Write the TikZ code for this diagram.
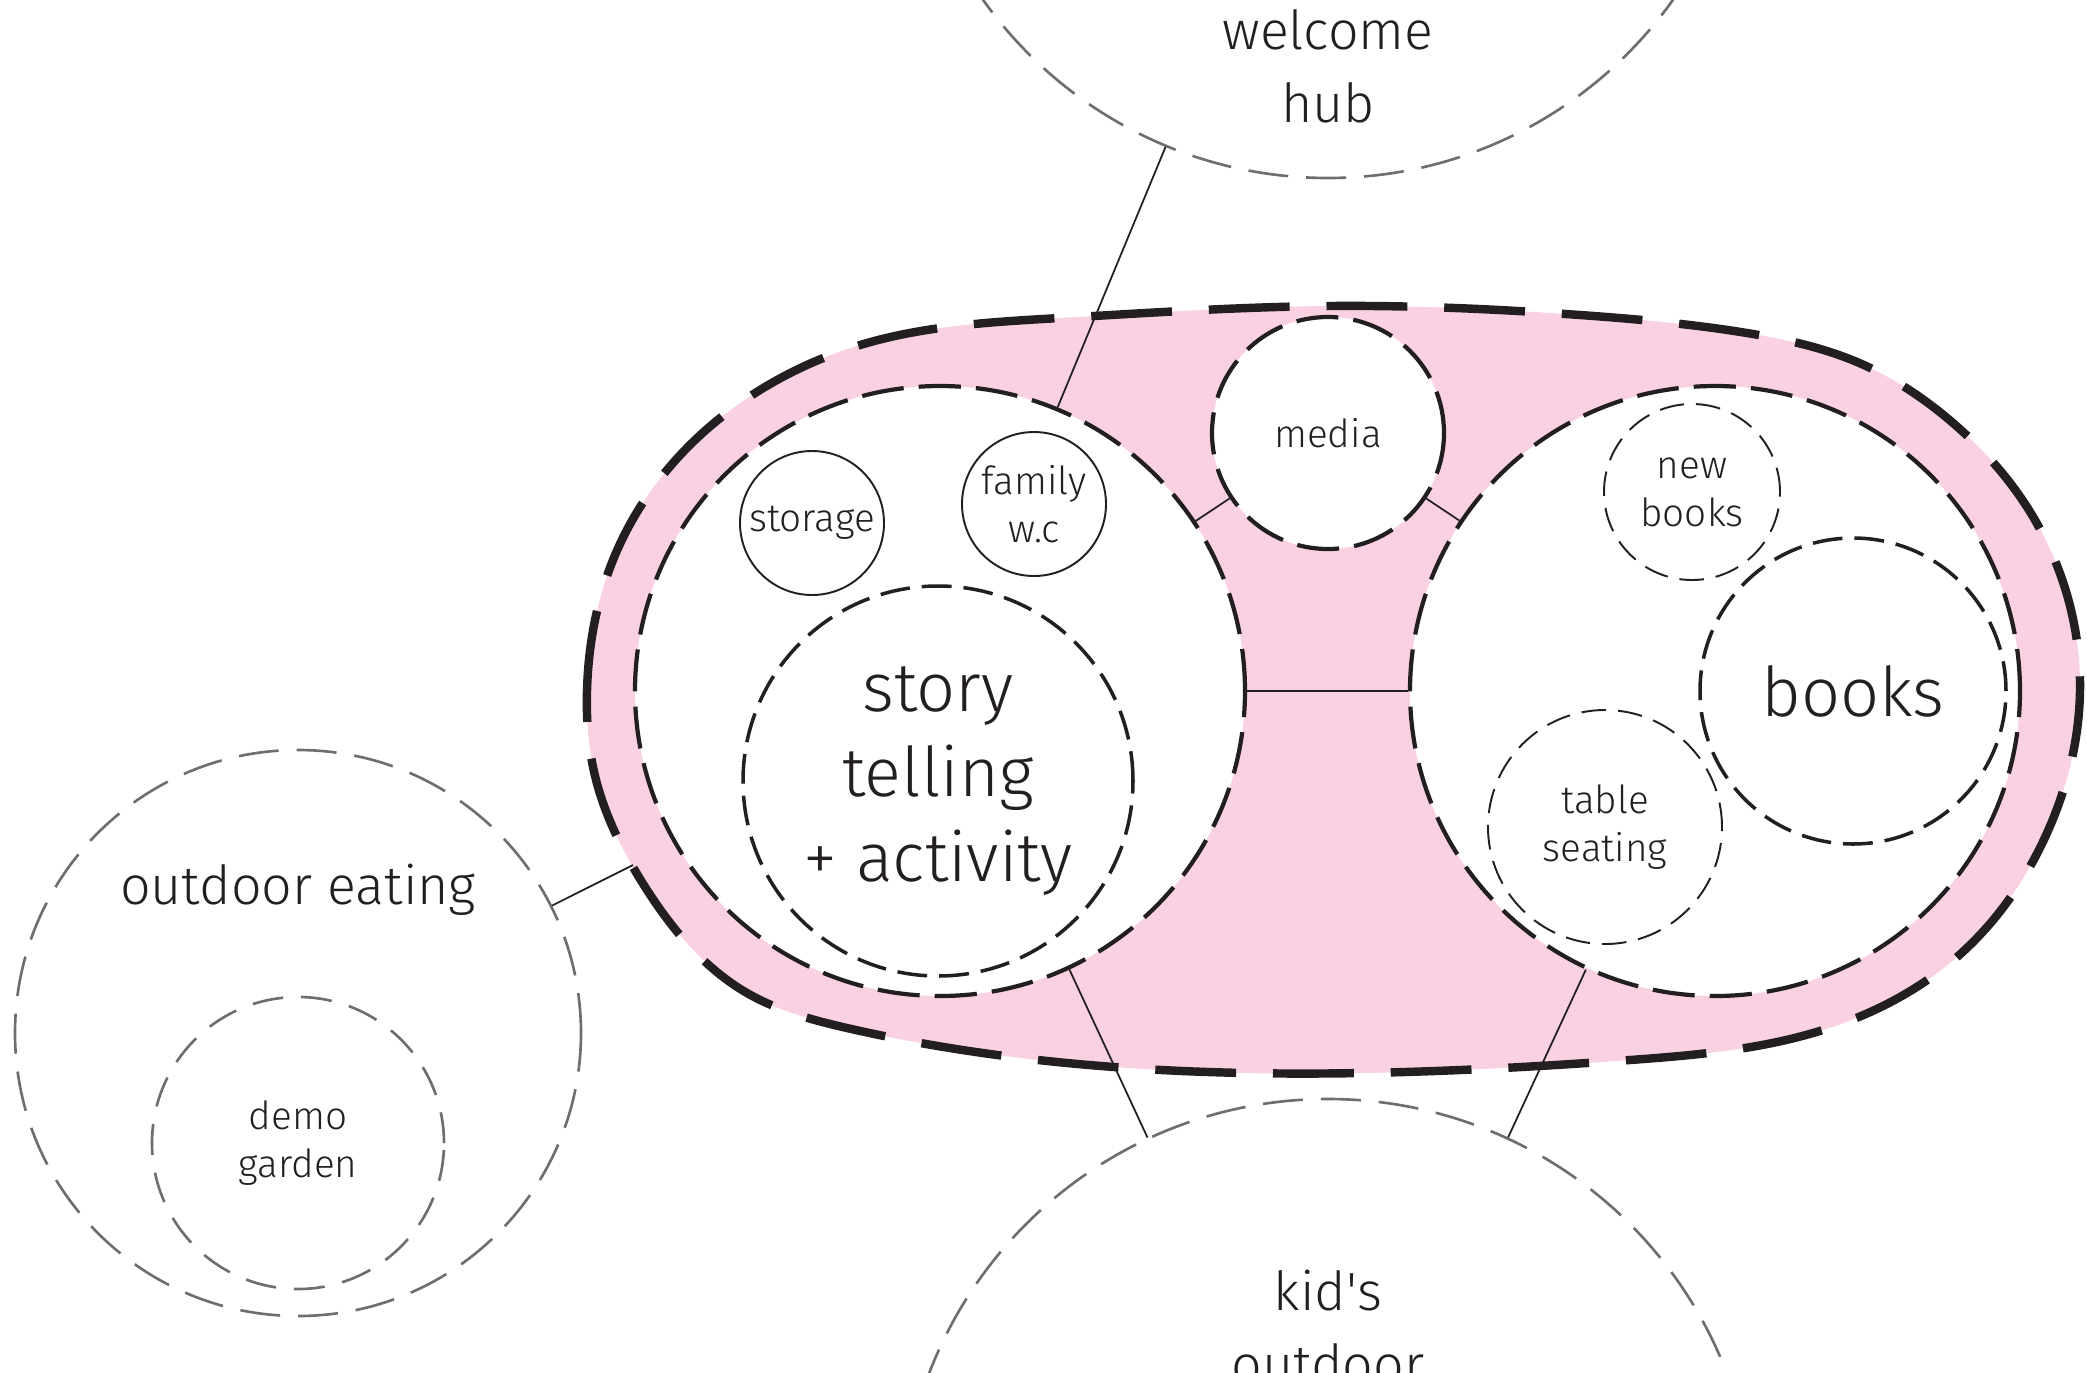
\documentclass[tikz,border=0pt]{standalone}
\usepackage{fontspec}
\IfFontExistsTF{Fira Sans Light}{\setmainfont{Fira Sans Light}}{\setmainfont{Fira Sans}}
\usetikzlibrary{hobby}
\definecolor{blobpink}{RGB}{249,209,227}
\definecolor{ink}{RGB}{35,31,32}
\definecolor{guidegray}{RGB}{109,110,113}

\tikzset{
	zone/.style={circle, draw=ink, fill=white, line width=1.2pt, dash pattern=on 12pt off 4.3pt, inner sep=0pt},
	room/.style={circle, draw=ink, line width=1pt, dash pattern=on 8.5pt off 3.4pt, inner sep=0pt, align=center},
	nook/.style={circle, draw=ink, line width=.55pt, dash pattern=on 7pt off 3.4pt, inner sep=0pt, align=center},
	solidroom/.style={circle, draw=ink, line width=.55pt, inner sep=0pt, align=center},
	offsite/.style={circle, draw=guidegray, line width=.75pt, dash pattern=on 11.4pt off 5.1pt, inner sep=0pt, align=center},
	link/.style={draw=ink, line width=.5pt},
	bigtext/.style={font=\fontsize{19.5}{24.3}\selectfont, text=ink},
	midtext/.style={font=\fontsize{15.3}{20.8}\selectfont, text=ink, align=center},
	smalltext/.style={font=\fontsize{11}{13.7}\selectfont, text=ink},
}

\begin{document}
\begin{tikzpicture}[x=0.1mm, y=-0.1mm]
	\useasboundingbox (0,0) rectangle (2087,1372);

	%library blob
	\path[fill=blobpink, draw=ink, line width=2.4pt, dash pattern=on 23pt off 10.5pt]
		plot[closed hobby] coordinates {(587,691) (613,560) (673,463) (760,390) (867,343) (1060,318) (1330,306) (1580,315) (1747,333) (1857,362) (1953,423) (2027,507) (2080,691) (2047,833) (1957,957) (1813,1033) (1630,1060) (1363,1073) (1057,1062) (847,1028) (747,993) (647,890) (593,767)};
	\coordinate (blobw) at (633,865);

	%zones
	\node[zone, minimum size=61mm] (leftzone) at (940,691) {};
	\node[zone, minimum size=61mm] (rightzone) at (1715,691) {};
	\node[zone, minimum size=23.2mm, smalltext] (media) at (1328,433) {media};

	%outside
	\node[offsite, minimum size=84.6mm] (welcome) at (1328,-245) {};
	\node[midtext] (welcometext) at (1328,66) {welcome\\hub};
	\node[offsite, minimum size=85.4mm] (kids) at (1328,1526) {};
	\node[midtext] (kidstext) at (1328,1327) {kid\textquotesingle s\\outdoor};
	\node[offsite, minimum size=56.6mm] (outdoor) at (298,1033) {};
	\node[midtext] (outdoortext) at (298,890) {outdoor eating};
	\node[offsite, minimum size=29.2mm, dash pattern=on 8.8pt off 5.1pt, smalltext] (garden) at (298,1143) {demo\\garden};

	%rooms
	\node[room, minimum size=39mm, bigtext] (story) at (938,781) {story\\telling\\+ activity};
	\node[solidroom, minimum size=14.4mm, smalltext] (storage) at (812,523) {storage};
	\node[solidroom, minimum size=14.4mm, smalltext] (family) at (1034,504) {family\\w.c};
	\node[nook, minimum size=17.6mm, smalltext] (newbooks) at (1692,492) {new\\books};
	\node[room, minimum size=30.6mm, bigtext] (books) at (1853,691) {books};
	\node[nook, minimum size=23.4mm, smalltext] (seating) at (1605,827) {table\\seating};

	%links
	\draw[link] (welcome) -- (leftzone);
	\draw[link] (media) -- (leftzone);
	\draw[link] (media) -- (rightzone);
	\draw[link] (leftzone) -- (rightzone);
	\draw[link] (leftzone) -- (kids);
	\draw[link] (rightzone) -- (kids);
	\draw[link] (outdoor) -- (blobw);
\end{tikzpicture}
\end{document}
